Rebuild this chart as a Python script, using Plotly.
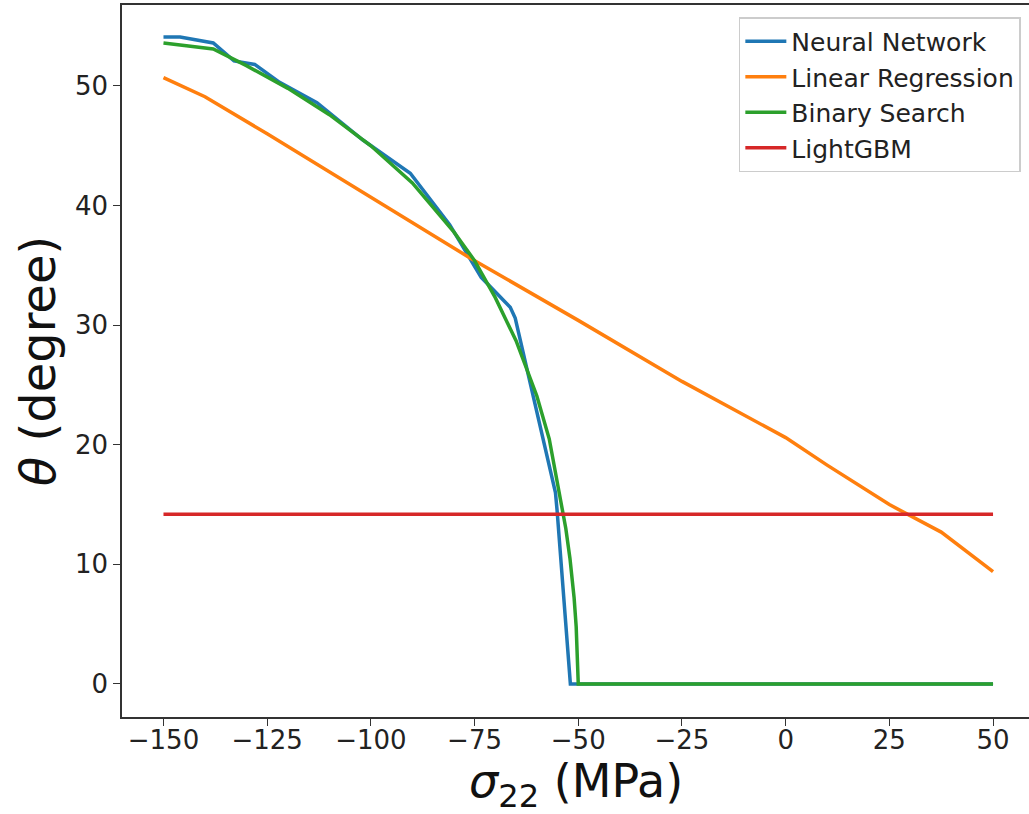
import plotly.graph_objects as go

# ---- data ----
nn_x = [-150, -146, -138, -133, -128, -122, -113, -102, -90.5, -81, -73.4, -66.4, -65.2, -55.5, -55.1, -51.9, 50]
nn_y = [54.1, 54.1, 53.6, 52.1, 51.8, 50.3, 48.6, 45.5, 42.7, 38.4, 34.0, 31.5, 30.6, 16.0, 14.5, 0.0, 0.0]

lr_x = [-150, -140, -125, -100, -76, -50, -25, 0, 10, 25, 37.5, 50]
lr_y = [50.7, 49.1, 46.0, 40.7, 35.6, 30.4, 25.3, 20.6, 18.3, 15.0, 12.7, 9.4]

bs_x = [-150, -138, -130, -120, -110, -100, -90, -80, -75, -70, -65, -60, -57, -55, -53, -52, -51, -50.5, -50, 50]
bs_y = [53.6, 53.1, 51.7, 49.8, 47.6, 45.0, 41.9, 37.8, 35.4, 32.3, 28.7, 24.1, 20.5, 16.8, 13.0, 10.5, 7.2, 4.8, 0.0, 0.0]

lg_x = [-150, 50]
lg_y = [14.2, 14.2]

series_names = ["Neural Network", "Linear Regression", "Binary Search", "LightGBM"]
series_colors = ["#1f77b4", "#ff7f0e", "#2ca02c", "#d62728"]

x_ticks = [-150, -125, -100, -75, -50, -25, 0, 25, 50]
x_tick_labels = ["−150", "−125", "−100", "−75", "−50", "−25", "0", "25", "50"]
y_ticks = [0, 10, 20, 30, 40, 50]
y_tick_labels = ["0", "10", "20", "30", "40", "50"]

x_title = "<i>σ</i><sub>22</sub> (MPa)"
y_title = "<i>θ</i> (degree)"

FONT = "DejaVu Sans, Liberation Sans, sans-serif"

fig = go.Figure()
for i, (xs, ys) in enumerate([(nn_x, nn_y), (lr_x, lr_y), (bs_x, bs_y), (lg_x, lg_y)]):
    fig.add_trace(go.Scatter(
        x=xs, y=ys, mode="lines", name=series_names[i],
        line=dict(color=series_colors[i], width=3.5),
        legendgroup=f"g{i}",
    ))

fig.update_layout(
    width=1029, height=814,
    margin=dict(l=122, r=0, t=5, b=97, autoexpand=False),
    plot_bgcolor="white", paper_bgcolor="white",
    font=dict(family=FONT, color="#222222"),
    showlegend=True,
    legend=dict(
        x=0.991, y=0.983, xanchor="right", yanchor="top",
        bgcolor="rgba(255,255,255,0.8)", bordercolor="#cccccc", borderwidth=1.5,
        font=dict(family=FONT, size=25, color="#222222"),
        tracegroupgap=0, itemwidth=41,
    ),
    xaxis=dict(
        range=[-160, 58.67], tickmode="array", tickvals=x_ticks, ticktext=x_tick_labels,
        showgrid=False, zeroline=False, automargin=False,
        showline=True, linecolor="#333333", linewidth=1.5, mirror=True,
        ticks="outside", ticklen=7, tickwidth=1.3, tickcolor="#333333",
        tickfont=dict(family=FONT, size=26, color="#222222"),
        ticklabelstandoff=-8,
    ),
    yaxis=dict(
        range=[-2.76, 56.77], tickmode="array", tickvals=y_ticks, ticktext=y_tick_labels,
        showgrid=False, zeroline=False, automargin=False,
        showline=True, linecolor="#333333", linewidth=1.5, mirror=False,
        ticks="outside", ticklen=7, tickwidth=1.3, tickcolor="#333333",
        tickfont=dict(family=FONT, size=26, color="#222222"),
        title=dict(text=y_title, font=dict(family=FONT, size=48, color="#111111"), standoff=4),
    ),
    annotations=[
        dict(text=x_title, xref="paper", yref="paper", x=0.5, y=-0.095,
             xanchor="center", yanchor="middle", showarrow=False,
             font=dict(family=FONT, size=46, color="#111111")),
    ],
)

fig.write_html(
    "out.html",
    config={"displayModeBar": False},
    post_script="document.body.style.margin='0';document.body.style.overflow='hidden';",
)
